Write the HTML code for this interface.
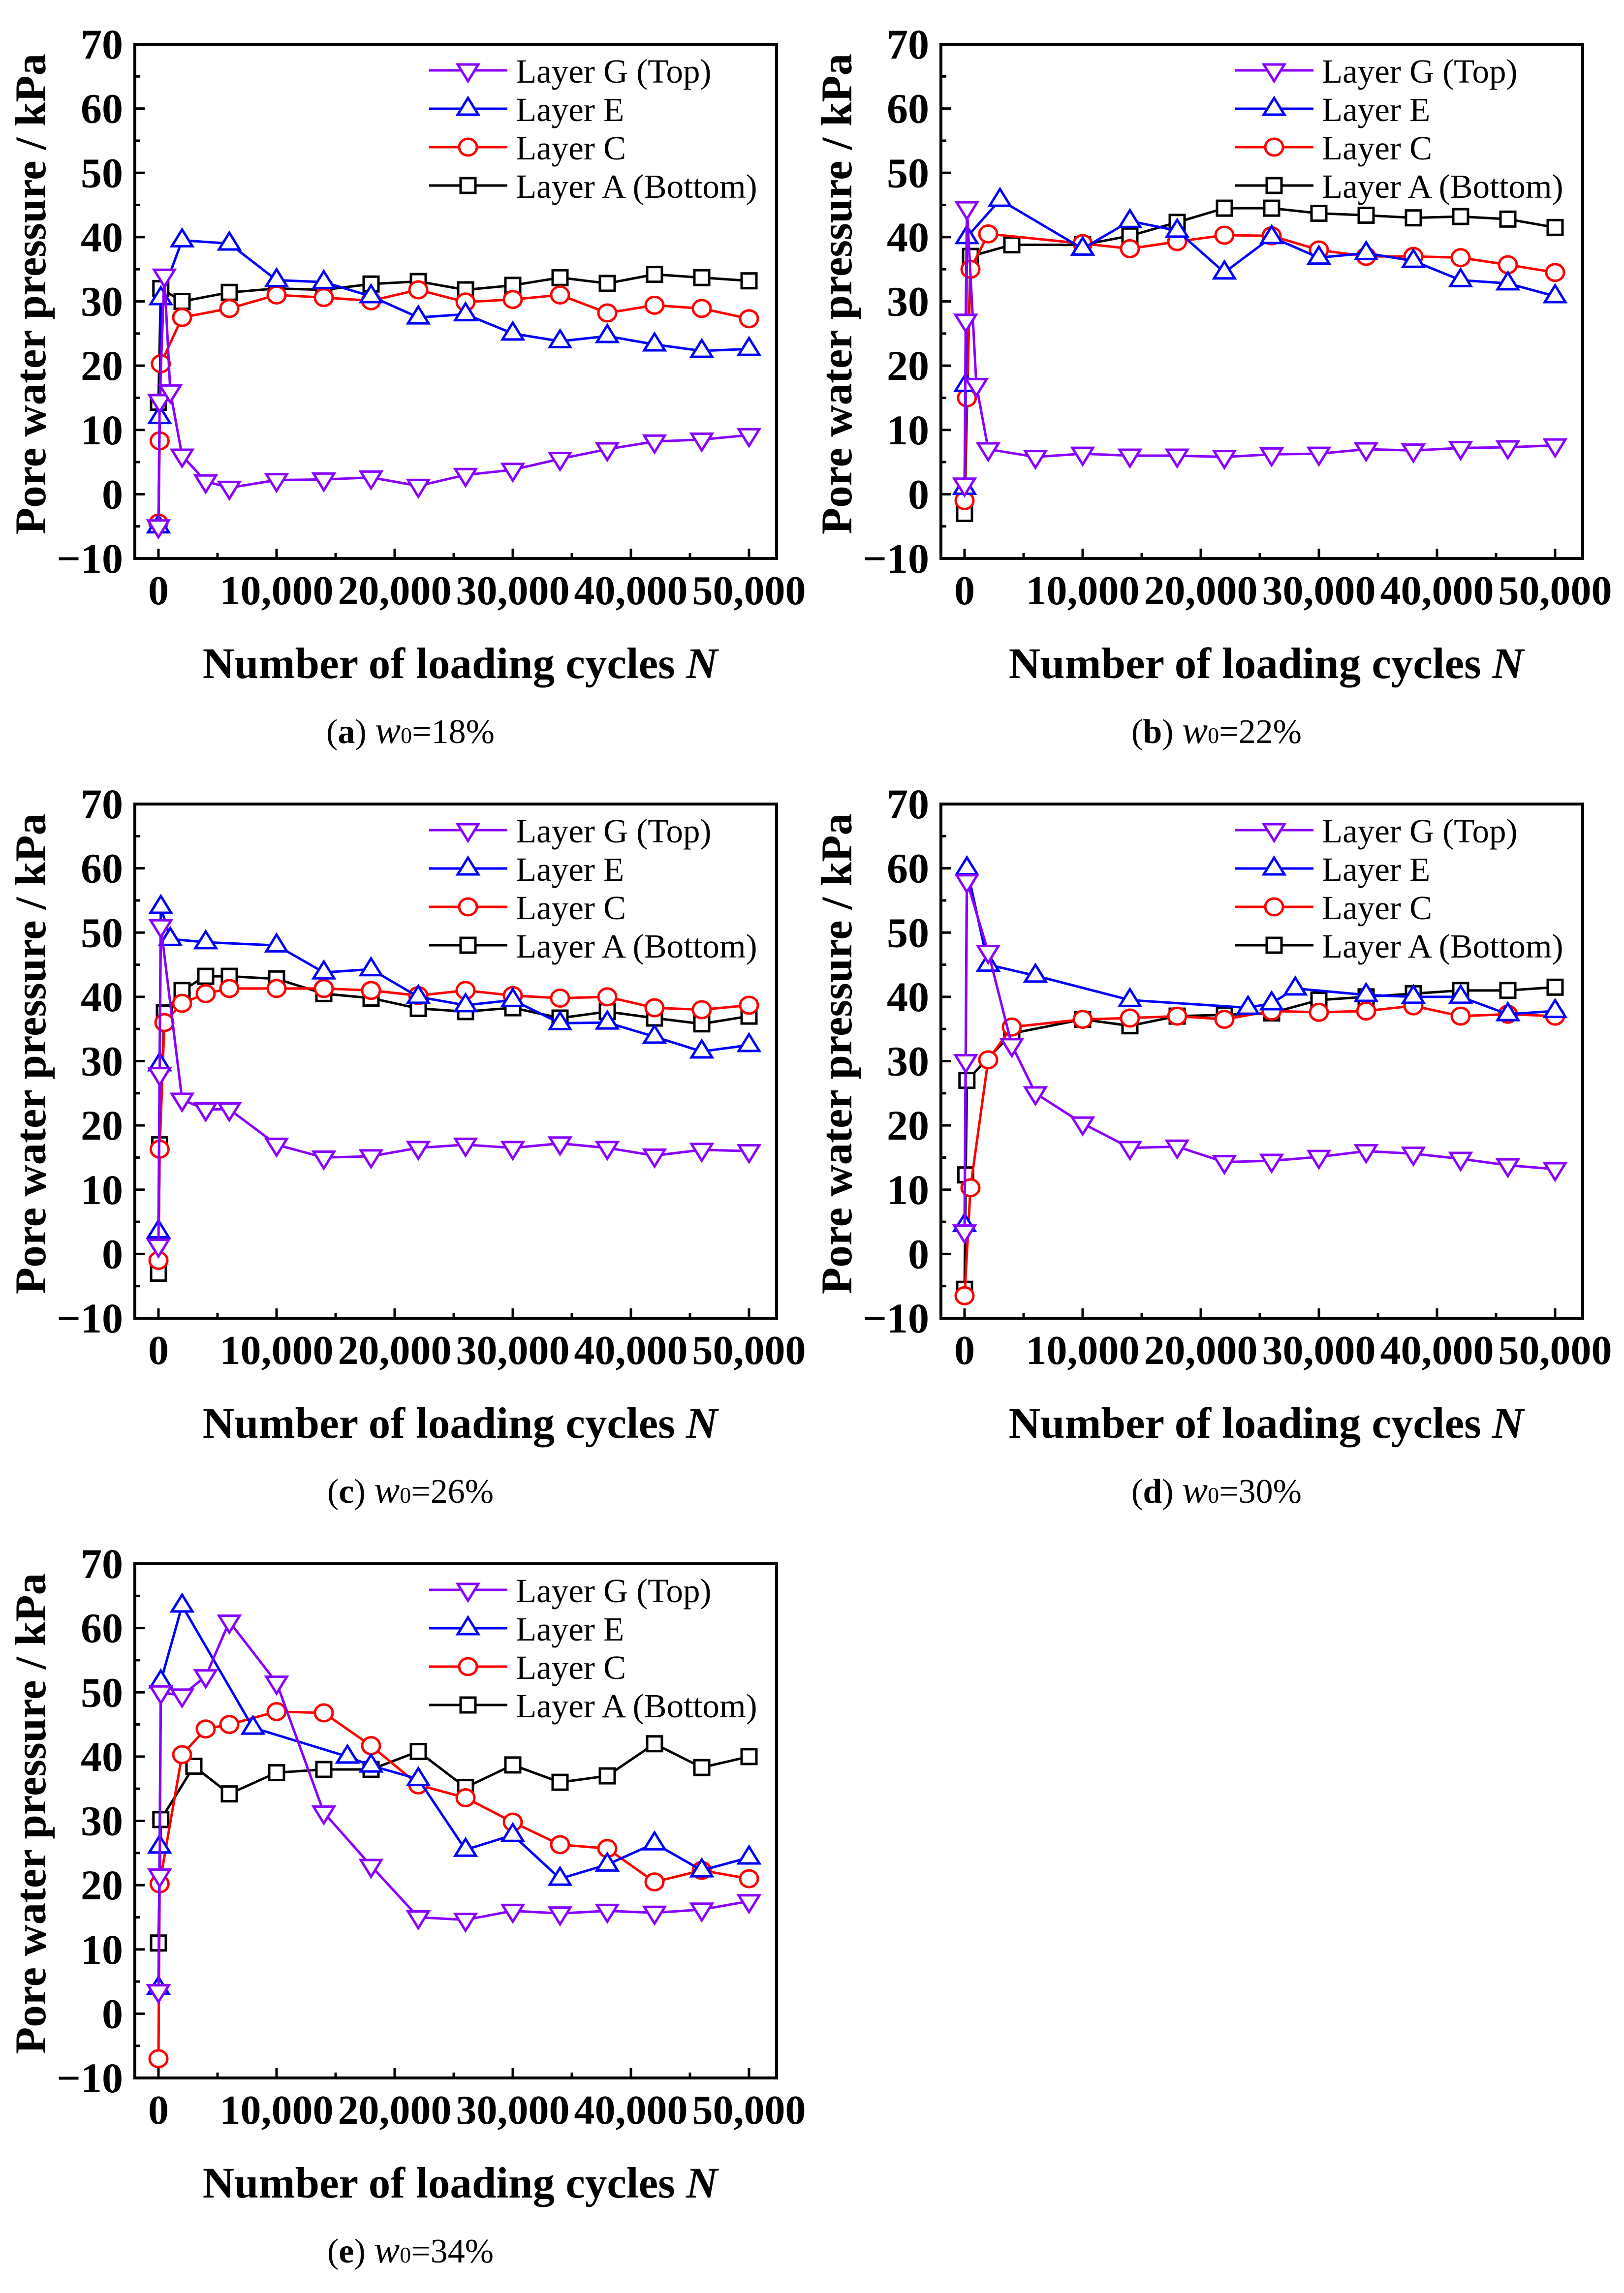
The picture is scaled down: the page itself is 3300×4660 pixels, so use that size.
<!DOCTYPE html>
<html><head><meta charset="utf-8"><title>Pore water pressure vs loading cycles</title>
<style>
html,body{margin:0;padding:0;background:#fff;}
svg{display:block;font-family:"Liberation Serif","DejaVu Serif",serif;}
</style></head>
<body>
<svg id="fig" width="3300" height="4660" viewBox="0 0 3300 4660" xmlns="http://www.w3.org/2000/svg"></svg>
<script>
// ---- data ----
const panelIds = ["a","b","c","d","e"];
const moisture = ["18%","22%","26%","30%","34%"];
const yTicks = [-10,0,10,20,30,40,50,60,70];
const xTicks = [0,10000,20000,30000,40000,50000];
const xTickLabels = ["0","10,000","20,000","30,000","40,000","50,000"];
const layerNames = ["Layer G (Top)","Layer E","Layer C","Layer A (Bottom)"];

// panel a
const aGx=[0,100,500,1000,2000,4000,6000,10000,14000,18000,22000,26000,30000,34000,38000,42000,46000,50000];
const aGy=[-5,14.5,34,16,6,2,1,2.2,2.3,2.6,1.3,3,3.8,5.5,7,8.2,8.5,9.2];
const aEx=[0,100,200,2000,6000,10000,14000,18000,22000,26000,30000,34000,38000,42000,46000,50000];
const aEy=[-5,12,30.5,39.5,39,33.3,33,30.8,27.5,28,25,23.8,24.6,23.3,22.3,22.6];
const aCx=[0,100,200,2000,6000,10000,14000,18000,22000,26000,30000,34000,38000,42000,46000,50000];
const aCy=[-4.5,8.3,20.3,27.5,28.9,31,30.6,30.1,31.8,29.9,30.3,31,28.2,29.4,28.9,27.3];
const aAx=[0,200,2000,6000,10000,14000,18000,22000,26000,30000,34000,38000,42000,46000,50000];
const aAy=[14.3,32,30,31.4,32,31.8,32.7,33.1,31.8,32.5,33.7,32.8,34.2,33.7,33.2];
// panel b
const bGx=[0,100,200,1000,2000,6000,10000,14000,18000,22000,26000,30000,34000,38000,42000,46000,50000];
const bGy=[1.5,27,44.5,17,7,5.8,6.3,6,6,5.8,6.2,6.3,7,6.8,7.2,7.3,7.6];
const bEx=[0,100,200,3000,10000,14000,18000,22000,26000,30000,34000,38000,42000,46000,50000];
const bEy=[1,17,40,45.8,38.2,42.5,41,34.5,40,36.8,37.5,36.3,33.3,32.8,30.8];
const bCx=[0,200,500,2000,10000,14000,18000,22000,26000,30000,34000,38000,42000,46000,50000];
const bCy=[-1,15,35,40.5,39,38.2,39.3,40.3,40.2,38,37,37,36.8,35.7,34.5];
const bAx=[0,500,4000,10000,14000,18000,22000,26000,30000,34000,38000,42000,46000,50000];
const bAy=[-3,37,38.8,38.8,40.2,42.3,44.5,44.5,43.7,43.4,43,43.2,42.8,41.5];
// panel c
const cGx=[0,100,200,2000,4000,6000,10000,14000,18000,22000,26000,30000,34000,38000,42000,46000,50000];
const cGy=[1.3,28,51,24,22.5,22.5,17,15,15.2,16.5,17,16.5,17.2,16.5,15.3,16.2,16];
const cEx=[0,100,200,1000,4000,10000,14000,18000,22000,26000,30000,34000,38000,42000,46000,50000];
const cEy=[3.5,29.5,54,49,48.5,48,43.8,44.3,40,38.7,39.5,35.9,36,33.8,31.5,32.5];
const cCx=[0,100,500,2000,4000,6000,10000,14000,18000,22000,26000,30000,34000,38000,42000,46000,50000];
const cCy=[-1,16.3,36,39,40.5,41.3,41.3,41.3,41,40.2,41,40.2,39.8,40,38.3,38,38.7];
const cAx=[0,100,500,2000,4000,6000,10000,14000,18000,22000,26000,30000,34000,38000,42000,46000,50000];
const cAy=[-3,17,37.5,41,43.2,43.2,42.8,40.5,39.8,38.2,37.7,38.3,36.7,37.7,36.7,35.8,37];
// panel d
const dGx=[0,100,200,2000,4000,6000,10000,14000,18000,22000,26000,30000,34000,38000,42000,46000,50000];
const dGy=[3.5,30,58,47,32.5,25,20.3,16.5,16.7,14.3,14.5,15.1,16,15.6,14.8,13.8,13.2];
const dEx=[0,200,2000,6000,14000,24000,26000,28000,34000,38000,42000,46000,50000];
const dEy=[4.5,60,45,43.3,39.5,38.3,39,41.3,40.3,40,40,37.3,37.8];
const dCx=[0,500,2000,4000,10000,14000,18000,22000,26000,30000,34000,38000,42000,46000,50000];
const dCy=[-6.5,10.3,30.2,35.3,36.5,36.7,37,36.5,37.8,37.6,37.8,38.6,37,37.3,37];
const dAx=[0,100,200,4000,10000,14000,18000,22000,26000,30000,34000,38000,42000,46000,50000];
const dAy=[-5.5,12.3,27,34.3,36.5,35.5,37,37.2,37.5,39.5,40,40.5,41,41,41.5];
// panel e
const eGx=[0,100,200,2000,4000,6000,10000,14000,18000,22000,26000,30000,34000,38000,42000,46000,50000];
const eGy=[3.5,21.5,50,49.5,52.5,61,51.5,31.3,23,15,14.6,16,15.6,16,15.7,16.2,17.5];
const eEx=[0,100,200,2000,8000,16000,18000,22000,26000,30000,34000,38000,42000,46000,50000];
const eEy=[4,26,51.7,63.5,44.5,40,38.6,36.5,25.5,27.8,21,23.2,26.5,22.3,24.3];
const eCx=[0,100,2000,4000,6000,10000,14000,18000,22000,26000,30000,34000,38000,42000,46000,50000];
const eCy=[-7,20.2,40.3,44.3,45,47,46.8,41.7,35.6,33.6,29.8,26.3,25.7,20.5,22.3,21];
const eAx=[0,200,3000,6000,10000,14000,18000,22000,26000,30000,34000,38000,42000,46000,50000];
const eAy=[11,30.2,38.5,34.2,37.5,38,38,40.8,35.2,38.7,36,37,42,38.3,40];

const seriesX=[[aGx,aEx,aCx,aAx],[bGx,bEx,bCx,bAx],[cGx,cEx,cCx,cAx],[dGx,dEx,dCx,dAx],[eGx,eEx,eCx,eAx]];
const seriesY=[[aGy,aEy,aCy,aAy],[bGy,bEy,bCy,bAy],[cGy,cEy,cCy,cAy],[dGy,dEy,dCy,dAy],[eGy,eEy,eCy,eAy]];

// ---- drawing ----
const NS="http://www.w3.org/2000/svg";
const svg=document.getElementById('fig');
const colors=["#8a00ff","#0000ff","#ff0000","#000000"];
const markers=["tdown","tup","circle","square"];
function mk(tag,attrs,parent){const e=document.createElementNS(NS,tag);for(const k in attrs)e.setAttribute(k,attrs[k]);(parent||svg).appendChild(e);return e;}

function marker(g,type,cx,cy,col){
  let e;
  if(type==="tdown"){e=mk('polygon',{points:`${cx-21},${cy-12} ${cx+21},${cy-12} ${cx},${cy+22}`,fill:'#fff',stroke:col,'stroke-width':5},g);}
  else if(type==="tup"){e=mk('polygon',{points:`${cx-21},${cy+12} ${cx+21},${cy+12} ${cx},${cy-22}`,fill:'#fff',stroke:col,'stroke-width':5},g);}
  else if(type==="circle"){e=mk('ellipse',{cx:cx,cy:cy,rx:18,ry:17,fill:'#fff',stroke:col,'stroke-width':5},g);}
  else {e=mk('rect',{x:cx-15,y:cy-15,width:30,height:30,fill:'#fff',stroke:col,'stroke-width':5},g);}
  return e;
}

const DX=1638, DY=1544;
panelIds.forEach((pid,pi)=>{
  const ox=(pi%2)*DX, oy=Math.floor(pi/2)*DY;
  const L=274+ox, R=1578+ox, T=90+oy, B=1135+oy;
  const xs=v=>322+ox+v*1200/50000;
  const ys=v=>T+(70-v)*(B-T)/80;
  const g=mk('g',{});
  
  
  for(let s=3;s>=0;s--){
    const X=seriesX[pi][s], Y=seriesY[pi][s];
    const pts=X.map((x,i)=>xs(x)+','+ys(Y[i])).join(' ');
    const sg=mk('g',{},g);
    
    
    const pl=mk('polyline',{points:pts,fill:'none',stroke:colors[s],'stroke-width':5,'stroke-linejoin':'round'},sg);
    
    
    X.forEach((x,i)=>{
      const m=marker(sg,markers[s],xs(x),ys(Y[i]),colors[s]);
      
      
    });
  }
  const box=mk('rect',{x:L,y:T,width:R-L,height:B-T,fill:'none',stroke:'#000','stroke-width':6},g);
  
  
  for(let v=-10;v<=70;v+=5){
    const y=ys(v), len=(v%10===0)?20:11;
    mk('line',{x1:L,y1:y,x2:L+len,y2:y,stroke:'#000','stroke-width':5},g);
  }
  yTicks.forEach(v=>{
    const t=mk('text',{x:L-24,y:ys(v)+29,'text-anchor':'end','font-size':86,'font-weight':'bold'},g);
    t.textContent=(v<0?'\u2212':'')+Math.abs(v);
    
    
  });
  for(let v=0;v<=50000;v+=5000){
    const x=xs(v), len=(v%10000===0)?20:11;
    mk('line',{x1:x,y1:B,x2:x,y2:B-len,stroke:'#000','stroke-width':5},g);
  }
  xTicks.forEach((v,i)=>{
    const t=mk('text',{x:xs(v),y:B+93,'text-anchor':'middle','font-size':84,'font-weight':'bold'},g);
    t.textContent=xTickLabels[i];
    
    
  });
  const yt=mk('text',{x:0,y:0,transform:`translate(${92+ox},${(T+B)/2-15}) rotate(-90)`,'text-anchor':'middle','font-size':89,'font-weight':'bold'},g);
  yt.textContent='Pore water pressure / kPa';
  
  
  const xt=mk('text',{x:935+ox,y:B+243,'text-anchor':'middle','font-size':89,'font-weight':'bold'},g);
  xt.innerHTML='Number of loading cycles <tspan font-style="italic">N</tspan>';
  
  
  const cap=mk('text',{x:834+ox,y:1510+oy,'text-anchor':'middle','font-size':70},g);
  cap.innerHTML=`(<tspan font-weight="bold">${pid}</tspan>) <tspan font-style="italic" font-size="78">w</tspan><tspan font-size="46">0</tspan>=${moisture[pi]}`;
  
  
  const lg=mk('g',{},g);
  
  
  layerNames.forEach((nm,i)=>{
    const y=143+oy+i*78;
    const eg=mk('g',{},lg);
    
    
    mk('line',{x1:872+ox,y1:y,x2:1031+ox,y2:y,stroke:colors[i],'stroke-width':5},eg);
    marker(eg,markers[i],951+ox,y,colors[i]);
    const t=mk('text',{x:1048+ox,y:y+25,'font-size':69},eg);
    t.textContent=nm;
  });
});
</script>
</body></html>
